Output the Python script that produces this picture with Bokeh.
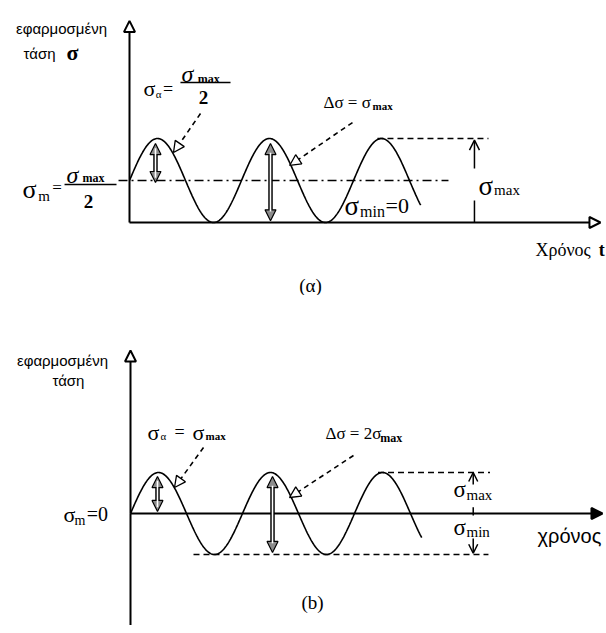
import numpy as np
from bokeh.plotting import figure
from bokeh.layouts import column
from bokeh.models import Range1d, Label, Arrow, NormalHead, OpenHead
from bokeh.embed import file_html
from bokeh.resources import INLINE

# ---------------- data (stress normalised to sigma_max = 1, period = 1) ----------------
a_sigma_max = 1.0      # panel (a): pulsating stress
a_sigma_min = 0.0
b_sigma_max = 1.0      # panel (b): fully reversed stress
b_sigma_min = -1.0
cycles_drawn = 2.6     # number of cycles shown in each panel
time_axis_end_a = 4.205
time_axis_end_b = 4.214
stress_axis_top_a = 2.40
stress_axis_top_b = 3.976

SERIF = "Liberation Serif"
SANS = "Liberation Sans"
W = 606


def make_fig(h, origin_x, origin_y, top_y, px_t, px_s):
    x0 = -origin_x / px_t
    y1 = (origin_y - top_y) / px_s
    p = figure(width=W, height=h,
               x_range=Range1d(x0, x0 + W / px_t),
               y_range=Range1d(y1 - h / px_s, y1),
               output_backend="svg", toolbar_location=None,
               x_axis_location=None, y_axis_location=None,
               min_border=0, outline_line_color=None)
    p.grid.visible = False
    return p


def T(p, x, y, text, size, font=SERIF, align="left", style="normal"):
    p.add_layout(Label(x=x, y=y, text=text, text_font=font,
                       text_font_size=f"{size}px", text_align=align,
                       text_baseline="middle", text_font_style=style,
                       text_color="black"))


def axis_arrow(p, x0, y0, x1, y1, filled=False):
    head = NormalHead(size=11, line_width=2, line_color="black",
                      fill_color="black" if filled else "white")
    p.add_layout(Arrow(end=head, x_start=x0, y_start=y0, x_end=x1, y_end=y1,
                       line_width=2, line_color="black"))


def double_arrow(p, x, y0, y1):
    mk = lambda: NormalHead(size=11, line_width=1.2, line_color="black",
                            fill_color="#8c8c8c")
    p.add_layout(Arrow(start=mk(), end=mk(), x_start=x, y_start=y0, x_end=x, y_end=y1,
                       line_width=4.5, line_color="black"))
    d = (y1 - y0) * 0.12
    p.add_layout(Arrow(start=None, end=None, x_start=x, y_start=y0 + d, x_end=x,
                       y_end=y1 - d, line_width=1.6, line_color="white"))


def leader(p, x0, y0, x1, y1):
    head = NormalHead(size=11, line_width=1.3, line_color="black", fill_color="white")
    p.add_layout(Arrow(end=head, x_start=x0, y_start=y0, x_end=x1, y_end=y1,
                       line_width=1.6, line_color="black", line_dash="5 4"))


def wave(smax, smin):
    t = np.linspace(0, cycles_drawn, 400)
    sm = (smax + smin) / 2
    sa = (smax - smin) / 2
    return t, sm + sa * np.sin(2 * np.pi * t)


# ============================ panel (a) ============================
pa = make_fig(295, 129, 222, 0, 112, 84)
ta, sa_ = wave(a_sigma_max, a_sigma_min)
pa.line(ta, sa_, line_color="black", line_width=1.6)
a_mean = (a_sigma_max + a_sigma_min) / 2
pa.line([-0.098, 2.848], [a_mean, a_mean], line_color="black", line_width=1.5,
        line_dash="9 4 2 4")
pa.line([2.214, 3.205], [a_sigma_max, a_sigma_max], line_color="black",
        line_width=1.5, line_dash="6 4")
axis_arrow(pa, 0, 0, 0, stress_axis_top_a)
axis_arrow(pa, 0, 0, time_axis_end_a, 0)
# sigma_max measuring arrow
pa.line([3.08, 3.08], [a_sigma_min, 0.262], line_color="black", line_width=1.5)
pa.add_layout(Arrow(end=OpenHead(size=10, line_width=1.5), x_start=3.08, y_start=0.643,
                    x_end=3.08, y_end=0.98 * a_sigma_max, line_width=1.5))
double_arrow(pa, 0.232, 0.94, 0.476)
double_arrow(pa, 1.259, 0.94, 0.02)
leader(pa, 0.634, 1.298, 0.393, 0.833)
leader(pa, 1.991, 1.19, 1.43, 0.679)

T(pa, -0.607, 2.31, "εφαρμοσμένη", 15, SANS, "center")
T(pa, -0.946, 2.01, "τάση", 15, SANS)
T(pa, -0.563, 2.02, "σ", 22, SERIF, style="bold")
# sigma_a = sigma_max / 2
T(pa, 0.125, 1.595, "σ", 22)
T(pa, 0.235, 1.53, "α", 11)
T(pa, 0.30, 1.595, "=", 18)
T(pa, 0.464, 1.762, "σ", 24, style="italic")
T(pa, 0.61, 1.714, "max", 12, style="bold")
pa.line([0.455, 0.902], [1.667, 1.667], line_color="black", line_width=1.5)
T(pa, 0.661, 1.488, "2", 19, align="center", style="bold")
# sigma_m = sigma_max / 2
T(pa, -0.955, 0.393, "σ", 26)
T(pa, -0.815, 0.32, "m", 15)
T(pa, -0.69, 0.417, "=", 17)
T(pa, -0.5625, 0.56, "σ", 24, style="italic")
T(pa, -0.42, 0.524, "max", 12, style="bold")
pa.line([-0.58, -0.116], [0.452, 0.452], line_color="black", line_width=1.5)
T(pa, -0.366, 0.25, "2", 19, align="center", style="bold")
# delta sigma
T(pa, 1.732, 1.43, "Δσ = σ", 17)
T(pa, 2.17, 1.381, "max", 11, style="bold")
# right sigma_max
T(pa, 3.116, 0.429, "σ", 27)
T(pa, 3.255, 0.39, "max", 15)
# sigma_min = 0
T(pa, 1.92, 0.202, "σ", 27)
T(pa, 2.058, 0.131, "min", 16)
T(pa, 2.286, 0.202, "=0", 22)
T(pa, 3.625, -0.333, "Χρόνος", 18)
T(pa, 4.19, -0.333, "t", 18, style="bold")
T(pa, 1.616, -0.75, "(α)", 19, align="center")

# ============================ panel (b) ============================
pb = make_fig(330, 130, 513, 295, 112, 41)
tb, sb = wave(b_sigma_max, b_sigma_min)
pb.line(tb, sb, line_color="black", line_width=1.6)
pb.line([2.21, 3.21], [b_sigma_max, b_sigma_max], line_color="black",
        line_width=1.5, line_dash="6 4")
pb.line([0.5625, 3.196], [b_sigma_min, b_sigma_min], line_color="black",
        line_width=1.5, line_dash="6 4")
pb.line([0, 0], [-3.0, 0], line_color="black", line_width=2)
axis_arrow(pb, 0, 0, 0, stress_axis_top_b)
axis_arrow(pb, 0, 0, time_axis_end_b, 0, filled=True)
# sigma_max / sigma_min markers
pb.add_layout(Arrow(end=OpenHead(size=9, line_width=1.5), x_start=3.06, y_start=0.71,
                    x_end=3.06, y_end=b_sigma_max, line_width=1.5))
pb.line([3.06, 3.06], [0.15, -0.05], line_color="black", line_width=1.5)
pb.add_layout(Arrow(end=OpenHead(size=9, line_width=1.5), x_start=3.06, y_start=-0.61,
                    x_end=3.06, y_end=0.97 * b_sigma_min, line_width=1.5))
double_arrow(pb, 0.241, 0.9, 0.05)
double_arrow(pb, 1.268, 0.9, -0.95)
leader(pb, 0.652, 1.61, 0.393, 0.634)
leader(pb, 1.991, 1.415, 1.42, 0.39)

T(pb, -0.607, 3.73, "εφαρμοσμένη", 15, SANS, "center")
T(pb, -0.554, 3.24, "τάση", 15, SANS, "center")
T(pb, 0.152, 1.98, "σ", 22)
T(pb, 0.268, 1.88, "α", 11)
T(pb, 0.393, 1.98, "=", 18)
T(pb, 0.554, 1.98, "σ", 22)
T(pb, 0.67, 1.88, "max", 11, style="bold")
T(pb, 1.741, 1.95, "Δσ = 2σ", 17)
T(pb, 2.23, 1.83, "max", 12, style="bold")
T(pb, -0.598, -0.02, "σ", 22)
T(pb, -0.50, -0.17, "m", 14)
T(pb, -0.39, -0.02, "=0", 20)
T(pb, 2.884, 0.585, "σ", 23)
T(pb, 3.0, 0.46, "max", 15)
T(pb, 2.884, -0.34, "σ", 23)
T(pb, 3.0, -0.46, "min", 15)
T(pb, 3.634, -0.537, "χρόνος", 20, SANS)
T(pb, 1.625, -2.17, "(b)", 19, align="center")

layout = column(pa, pb, spacing=0)
open("out.html", "w").write(file_html(layout, INLINE))
